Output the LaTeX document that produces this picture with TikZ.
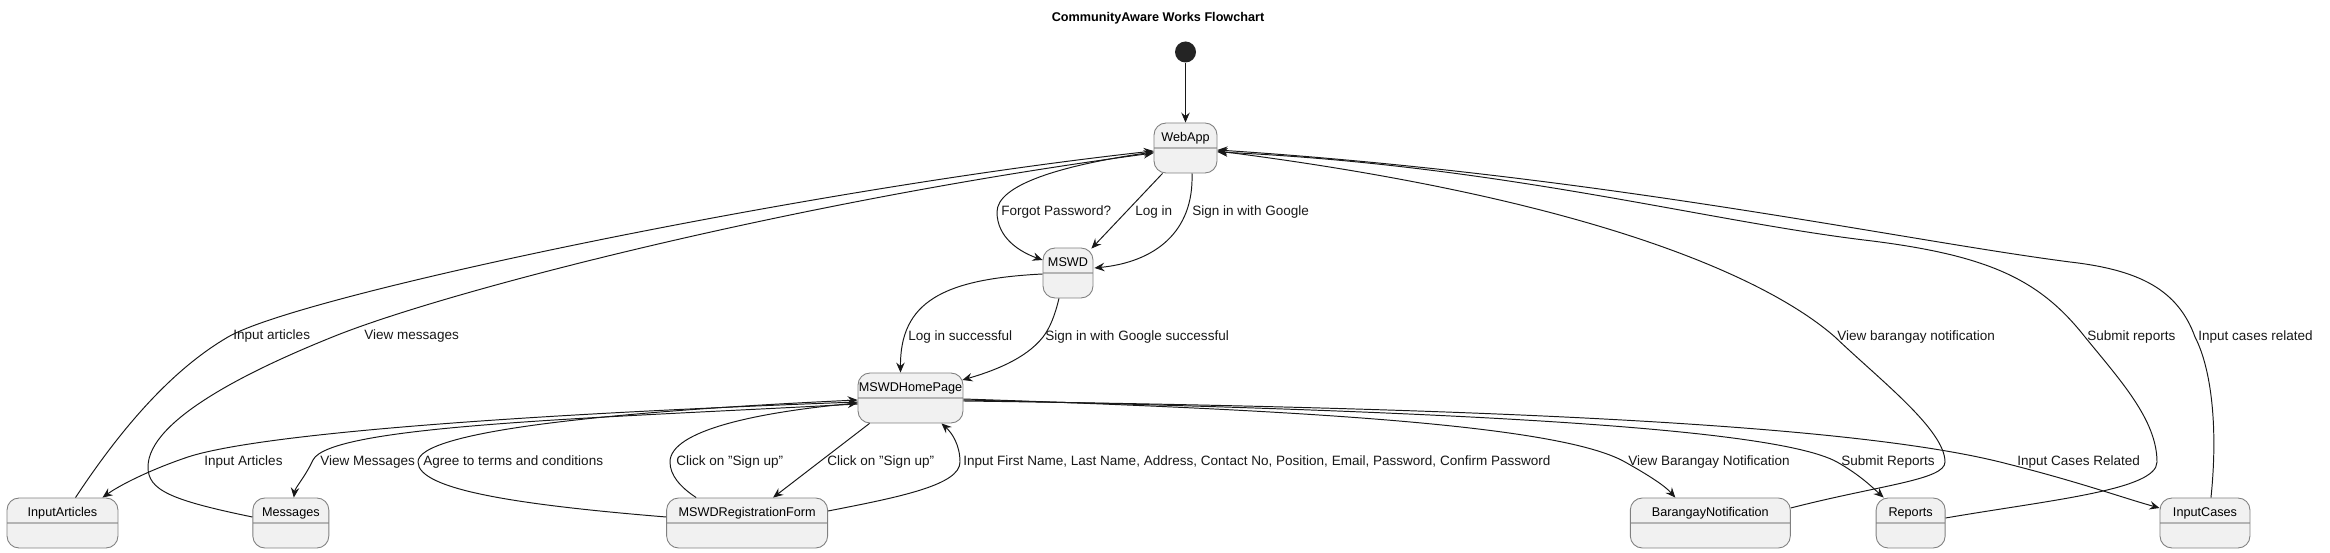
\documentclass[tikz,border=0pt]{standalone}
\usepackage{fontspec}
\setmainfont{Liberation Sans}
\usetikzlibrary{arrows.meta, positioning, calc}
\definecolor{statefill}{HTML}{F1F1F1}
\definecolor{stateline}{HTML}{808080}
\definecolor{divider}{HTML}{B4B4B4}
\definecolor{ink}{HTML}{181818}

\begin{document}
\begin{tikzpicture}[
    x=0.02cm, y=-0.02cm,
    statebox/.style={rectangle, draw=stateline, fill=statefill, rounded corners=0.24cm, minimum height=1cm, inner xsep=0pt, inner ysep=0pt, text height=0.2cm, text depth=0.46cm, font=\fontsize{7.2}{8}\selectfont, line width=0.5pt,
        path picture={\draw[divider, line width=1.1pt] (path picture bounding box.west) -- (path picture bounding box.east);}},
    lbl/.style={anchor=west, inner sep=0pt, font=\fontsize{7.7}{9}\selectfont, text=ink},
    flow/.style={-{Stealth[length=0.2cm, width=0.17cm, inset=0.07cm]}, draw=ink, line width=0.55pt}
]
\useasboundingbox[fill=white] (0,0) rectangle (2330,553);

% Title and start
\node[font=\bfseries\fontsize{7.2}{9}\selectfont] (title) at (1158,18) {CommunityAware Works Flowchart};
\node[circle, fill=ink!95, minimum size=0.42cm, inner sep=0pt] (start) at (1185.5,52) {};

% Login States
\node[statebox, minimum width=1.26cm] (webapp) at (1185.5,148) {WebApp};
\node[statebox, minimum width=1cm] (mswd) at (1068,273) {MSWD};
\node[statebox, minimum width=2.1cm] (homepage) at (910.5,398) {MSWDHomePage};

% Feature States
\node[statebox, minimum width=2.22cm] (inputarticles) at (62.5,523) {InputArticles};
\node[statebox, minimum width=1.52cm, right=2.68cm of inputarticles] (messages) {Messages};
\node[statebox, minimum width=3.22cm, right=6.74cm of messages] (regform) {MSWDRegistrationForm};
\node[statebox, minimum width=3.2cm, right=16.04cm of regform] (barangay) {BarangayNotification};
\node[statebox, minimum width=1.38cm, right=1.7cm of barangay] (reports) {Reports};
\node[statebox, minimum width=1.8cm, right=4.28cm of reports] (inputcases) {InputCases};

% Arrows to MSWD
\draw[flow] (start) -- (webapp);
\draw[flow] ($(webapp.west)+(0,4)$) .. controls (1060,165) and (997,185) .. (997,212) .. controls (997,238) and (1020,252) .. ($(mswd.west)+(0,-13)$);
\draw[flow] ($(webapp.south)+(-23,0)$) -- ($(mswd.north east)+(-2,1)$);
\draw[flow] ($(webapp.south)+(6.5,0)$) .. controls (1194,232) and (1155,262) .. ($(mswd.east)+(1,-5)$);

% Arrows to home page
\draw[flow] ($(mswd.west)+(0,1)$) .. controls (943,279) and (900,302) .. ($(homepage.north)+(-10,0)$);
\draw[flow] ($(mswd.south)+(-9,0)$) .. controls (1055,315) and (1050,328) .. (1043,337) .. controls (1025,360) and (990,372) .. ($(homepage.east)+(-1,-18)$);

% Home page to features
\draw[flow] ($(homepage.west)+(0,4)$) .. controls (500,415) and (250,435) .. (185,458) .. controls (150,470) and (120,485) .. ($(inputarticles.north)+(40,0)$);
\draw[flow] ($(homepage.west)+(0,6)$) .. controls (600,418) and (330,425) .. (313,460) .. controls (305,477) and (295,488) .. ($(messages.north)+(3,0)$);
\draw[flow] ($(regform.west)+(0,-6)$) .. controls (520,505) and (418,490) .. (418,462) .. controls (418,432) and (600,412) .. ($(homepage.west)+(0,2)$);
\draw[flow] ($(regform.north west)+(30,0)$) .. controls (680,487) and (670,475) .. (670,462) .. controls (670,430) and (760,412) .. ($(homepage.west)+(0,5)$);
\draw[flow] ($(homepage.south)+(-41,0)$) -- ($(regform.north)+(26,0)$);
\draw[flow] ($(regform.east)+(0,-12)$) .. controls (900,497) and (960,485) .. (960,462) .. controls (960,445) and (952,433) .. ($(homepage.south)+(31,0)$);
\draw[flow] ($(homepage.east)+(0,1)$) .. controls (1300,410) and (1560,425) .. (1625,462) .. controls (1650,476) and (1665,486) .. ($(barangay.north)+(-35,0)$);
\draw[flow] ($(homepage.east)+(0,2)$) .. controls (1400,410) and (1770,425) .. (1837,462) .. controls (1860,475) and (1872,487) .. ($(reports.north)+(-27,0)$);
\draw[flow] ($(homepage.east)+(0,3)$) .. controls (1500,408) and (1850,425) .. (2000,462) .. controls (2080,482) and (2120,497) .. ($(inputcases.west)+(0,-15)$);

% Features back to WebApp
\draw[flow] ($(inputarticles.north)+(13,0)$) .. controls (130,415) and (180,365) .. (228,337) .. controls (300,295) and (800,190) .. ($(webapp.west)+(0,3)$);
\draw[flow] ($(messages.west)+(0,-6)$) .. controls (170,500) and (148,490) .. (148,467) .. controls (148,420) and (250,370) .. (335,336) .. controls (450,290) and (800,200) .. ($(webapp.west)+(0,5)$);
\draw[flow] ($(barangay.east)+(0,-15)$) .. controls (1880,485) and (1945,480) .. (1945,462) .. controls (1945,430) and (1880,380) .. (1835,337) .. controls (1770,280) and (1600,200) .. ($(webapp.east)+(0,3)$);
\draw[flow] ($(reports.east)+(0,-5)$) .. controls (2050,500) and (2157,490) .. (2157,462) .. controls (2157,420) and (2120,380) .. (2085,337) .. controls (2040,280) and (1990,255) .. (1864,240) .. controls (1700,220) and (1500,165) .. ($(webapp.east)+(0,4)$);
\draw[flow] ($(inputcases.north)+(6,0)$) .. controls (2218,430) and (2212,370) .. (2195,337) .. controls (2178,290) and (2140,270) .. (2070,262) .. controls (1900,240) and (1600,175) .. ($(webapp.east)+(0,2)$);

% Labels
\node[lbl] (l-forgot) at (1001,212) {Forgot Password?};
\node[lbl] (l-login) at (1135,212) {Log in};
\node[lbl] (l-google) at (1192,212) {Sign in with Google};
\node[lbl] (l-loginok) at (908,337) {Log in successful};
\node[lbl] (l-googleok) at (1045,337) {Sign in with Google successful};
\node[lbl] (l-artback) at (233,336) {Input articles};
\node[lbl] (l-msgback) at (364,336) {View messages};
\node[lbl] (l-notifback) at (1837,337) {View barangay notification};
\node[lbl] (l-repback) at (2087,337) {Submit reports};
\node[lbl] (l-caseback) at (2198,337) {Input cases related};
\node[lbl] (l-articles) at (204,462) {Input Articles};
\node[lbl] (l-messages) at (320,462) {View Messages};
\node[lbl] (l-agree) at (423,462) {Agree to terms and conditions};
\node[lbl] (l-signup1) at (676,462) {Click on "Sign up"};
\node[lbl] (l-signup2) at (827,462) {Click on "Sign up"};
\node[lbl] (l-input) at (963,462) {Input First Name, Last Name, Address, Contact No, Position, Email, Password, Confirm Password};
\node[lbl] (l-notif) at (1628,462) {View Barangay Notification};
\node[lbl] (l-reports) at (1841,462) {Submit Reports};
\node[lbl] (l-cases) at (2017,462) {Input Cases Related};

\end{tikzpicture}
\end{document}
